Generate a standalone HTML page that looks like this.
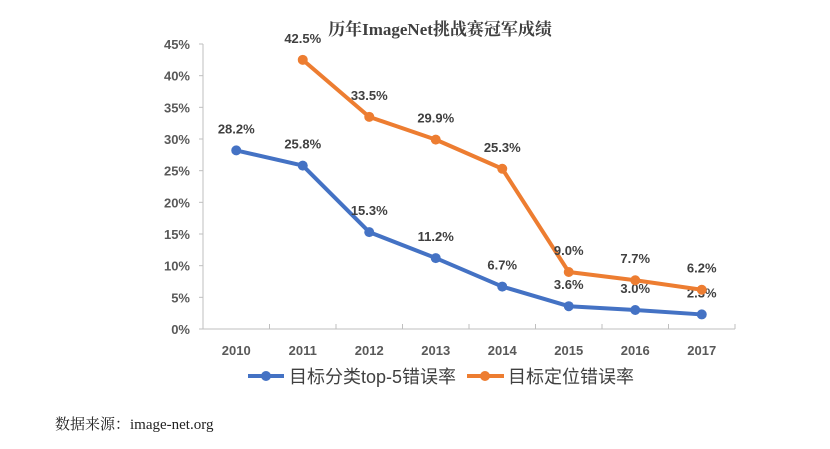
<!DOCTYPE html>
<html><head><meta charset="utf-8"><style>
body{margin:0;background:#fff;width:830px;height:444px;overflow:hidden}
svg text{font-family:"Liberation Sans","Noto Sans CJK SC",sans-serif}
svg text.serif{font-family:"Liberation Serif","Noto Serif CJK SC",serif}
</style></head><body>
<svg width="830" height="444" id="c">
<text class="serif" x="440" y="35" text-anchor="middle" font-size="17" font-weight="bold" fill="#404040">历年ImageNet挑战赛冠军成绩</text>
<g id="axes"></g><g id="series"></g>
<g>
<g>
<line x1="248" y1="376" x2="284" y2="376" stroke="#4472C4" stroke-width="4"/><circle cx="266" cy="376" r="5" fill="#4472C4"/>
<text x="289" y="383" font-size="18" fill="#404040">目标分类top-5错误率</text></g>
<g>
<line x1="467" y1="376" x2="504" y2="376" stroke="#ED7D31" stroke-width="4"/><circle cx="485" cy="376" r="5" fill="#ED7D31"/>
<text x="508" y="383" font-size="18" fill="#404040">目标定位错误率</text></g>
</g>
<text class="serif" x="55" y="429" font-size="15" fill="#222">数据来源：image-net.org</text>
</svg>
<script>
const years=['2010','2011','2012','2013','2014','2015','2016','2017'];
const top5=[28.2,25.8,15.3,11.2,6.7,3.6,3.0,2.3];
const loc=[null,42.5,33.5,29.9,25.3,9.0,7.7,6.2];
const yTicks=[0,5,10,15,20,25,30,35,40,45];
const NS='http://www.w3.org/2000/svg';
const L=203,R=735,B=329,T=44,band=(R-L)/years.length;
const x=i=>L+band*(i+0.5), y=v=>B-(v/45)*(B-T);
function mk(p,tag,a){const e=document.createElementNS(NS,tag);for(const k in a)e.setAttribute(k,a[k]);p.appendChild(e);return e;}
const ax=document.getElementById('axes'),se=document.getElementById('series');
let e=mk(ax,'line',{x1:L,y1:T,x2:L,y2:B,stroke:'#bfbfbf'});


e=mk(ax,'line',{x1:L,y1:B,x2:R,y2:B,stroke:'#bfbfbf'});


yTicks.forEach(v=>{
 mk(ax,'line',{x1:L-4,y1:y(v),x2:L,y2:y(v),stroke:'#bfbfbf'});
 const t=mk(ax,'text',{x:190,y:y(v)+5,'text-anchor':'end','font-size':13,'font-weight':'bold',fill:'#595959'});
 t.textContent=v+'%';
 
 
});
years.forEach((yr,i)=>{
 mk(ax,'line',{x1:L+band*(i+1),y1:B,x2:L+band*(i+1),y2:B-5,stroke:'#bfbfbf'});
 const t=mk(ax,'text',{x:x(i),y:355,'text-anchor':'middle','font-size':13,'font-weight':'bold',fill:'#595959'});
 t.textContent=yr;
 
 
});
function draw(data,color,name){
 const pts=[];data.forEach((v,i)=>{if(v!=null)pts.push([x(i),y(v),v]);});
 const pl=mk(se,'polyline',{points:pts.map(p=>p[0]+','+p[1]).join(' '),fill:'none',stroke:color,'stroke-width':4,'stroke-linejoin':'round'});
 
 
 pts.forEach(p=>{
  const c=mk(se,'circle',{cx:p[0],cy:p[1],r:5,fill:color});
  
  
  const t=mk(se,'text',{x:p[0],y:p[1]-17,'text-anchor':'middle','font-size':13,'font-weight':'bold',fill:'#404040'});
  t.textContent=p[2].toFixed(1)+'%';
  
  
 });
}
draw(top5,'#4472C4','top5-error');
draw(loc,'#ED7D31','localization-error');
</script>
</body></html>
